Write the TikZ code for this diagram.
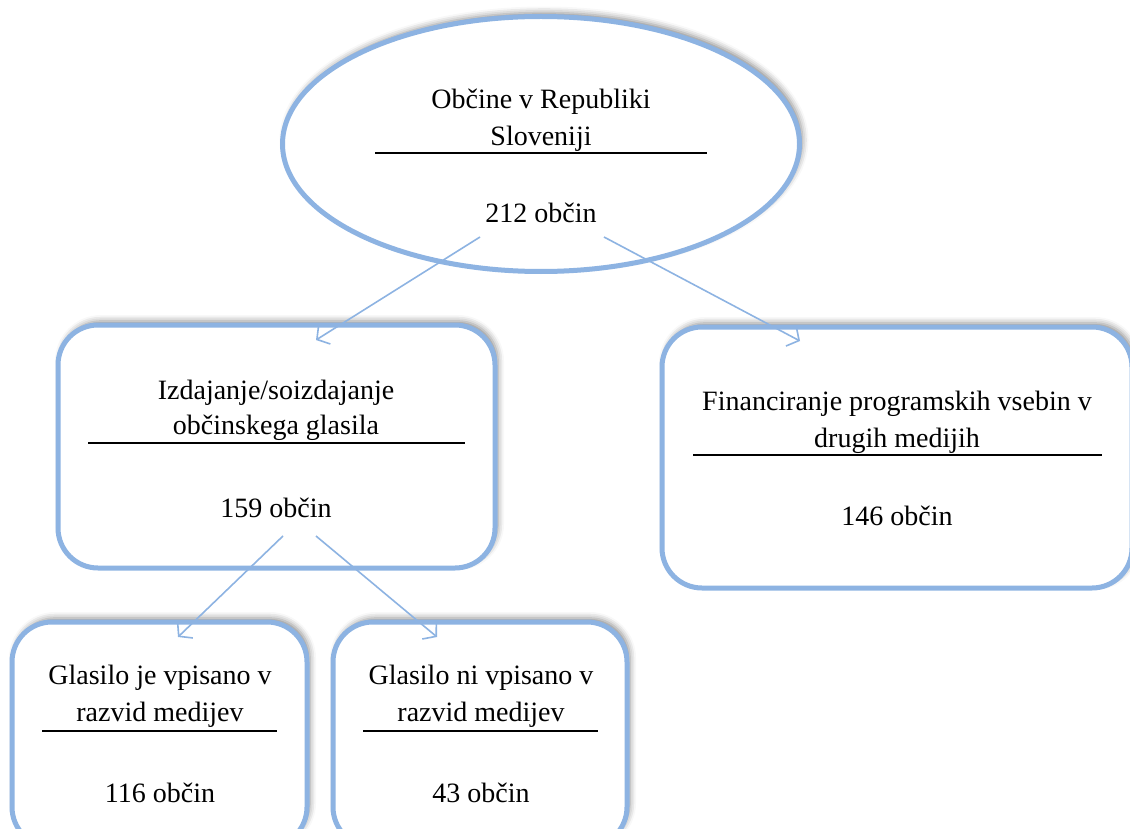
\documentclass[tikz,border=0pt]{standalone}
\usepackage{fontspec}
\setmainfont{Liberation Serif}
\usetikzlibrary{arrows.meta,shadows.blur,shapes.geometric}
\definecolor{boxblue}{HTML}{8DB3E2}
\tikzset{
  shapebox/.style={draw=boxblue, line width=5pt, fill=white,
    blur shadow={shadow xshift=3pt, shadow yshift=4pt, shadow blur radius=6pt, shadow opacity=45}},
  roundbox/.style={shapebox, rectangle, rounded corners=40pt, inner sep=0pt},
  txt/.style={anchor=base, inner sep=0pt, font=\fontsize{28}{34}\selectfont},
  rule/.style={draw=black, line width=1.4pt},
  conn/.style={draw=boxblue, line width=1.6pt, -{Straight Barb[length=9pt,width=22pt,line width=1.6pt]}}
}
\begin{document}
\begin{tikzpicture}[x=1pt,y=-1pt]
\useasboundingbox (0,0) rectangle (1130,829);
% shapes
\node[shapebox, ellipse, minimum width=517pt, minimum height=255pt, inner sep=0pt] (root) at (541,144) {};
\node[roundbox, minimum width=437pt, minimum height=243pt] (glas) at (276.5,446.5) {};
\node[roundbox, minimum width=470pt, minimum height=261pt] (fin) at (897,457.5) {};
\node[roundbox, minimum width=295pt, minimum height=225pt] (vp) at (159.5,734.5) {};
\node[roundbox, minimum width=294pt, minimum height=225pt] (nvp) at (480,734.5) {};
% texts
\node[txt] (r1) at (541,109) {Občine v Republiki};
\node[txt] (r2) at (541,146) {Sloveniji};
\node[txt] (r3) at (541,223) {212 občin};
\draw[rule] (375,153) -- (707,153);
\node[txt] (g1) at (276,399) {Izdajanje/soizdajanje};
\node[txt] (g2) at (276,434) {občinskega glasila};
\node[txt] (g3) at (276,517) {159 občin};
\draw[rule] (88,443) -- (465,443);
\node[txt] (f1) at (897,410) {Financiranje programskih vsebin v};
\node[txt] (f2) at (897,447) {drugih medijih};
\node[txt] (f3) at (897,525) {146 občin};
\draw[rule] (693,455) -- (1102,455);
\node[txt] (v1) at (160,684) {Glasilo je vpisano v};
\node[txt] (v2) at (160,721) {razvid medijev};
\node[txt] (v3) at (160,802) {116 občin};
\draw[rule] (42,731) -- (277,731);
\node[txt] (n1) at (481,684) {Glasilo ni vpisano v};
\node[txt] (n2) at (481,721) {razvid medijev};
\node[txt] (n3) at (481,802) {43 občin};
\draw[rule] (363,731) -- (598,731);
% connector endpoints
\coordinate (a1s) at (480,237); \coordinate (a1e) at (316,340);
\coordinate (a2s) at (604,237); \coordinate (a2e) at (800,341);
\coordinate (a3s) at (283,536); \coordinate (a3e) at (178,637);
\coordinate (a4s) at (316,536); \coordinate (a4e) at (437,637);
\draw[conn] (a1s) -- (a1e);
\draw[conn] (a2s) -- (a2e);
\draw[conn] (a3s) -- (a3e);
\draw[conn] (a4s) -- (a4e);
\end{tikzpicture}
\end{document}
